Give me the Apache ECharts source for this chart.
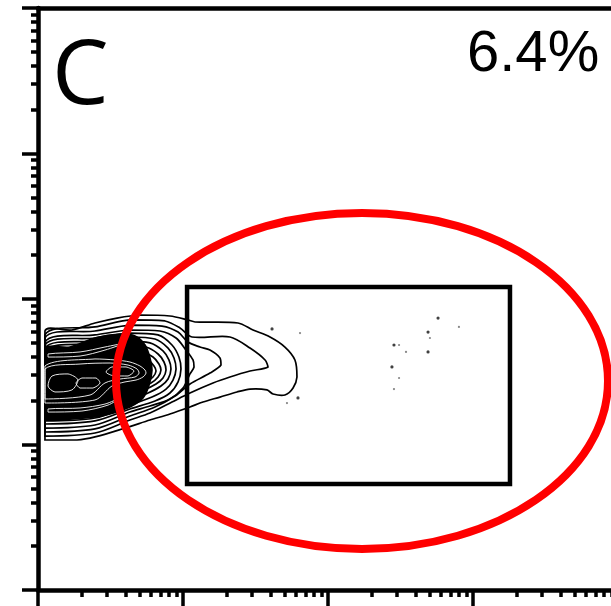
<!DOCTYPE html>
<html>
<head>
<meta charset="utf-8">
<script src="https://cdn.jsdelivr.net/npm/echarts@6/dist/echarts.min.js"></script>
<style>
  html, body { margin: 0; padding: 0; background: #fff; }
  #chart { width: 611px; height: 606px; }
</style>
</head>
<body>
<div id="chart"></div>
<script>
// Axes are in log10 decades of fluorescence intensity (10^0 .. 10^4).
const decadeTicks = [0, 1, 2, 3, 4];
const panelLabel = 'C';
const gatePercent = '6.4%';

// Gate shapes, given as [xMin, xMax, yMin, yMax] in decades.
const gateRect = [1.028, 3.255, 0.729, 2.082];
const gateEllipse = [0.538, 3.931, 0.282, 2.591];

// Density contours, outermost first: each ring is a closed list of [x, y] points.
const tailOuter = [[0.048,1.780],[0.234,1.787],[0.393,1.835],[0.545,1.869],[0.703,1.890],[0.910,1.883],[1.034,1.856],[1.083,1.842],[1.379,1.835],[1.483,1.787],[1.600,1.739],[1.703,1.670],[1.772,1.581],[1.786,1.464],[1.759,1.388],[1.703,1.340],[1.621,1.347],[1.579,1.375],[1.462,1.381],[1.372,1.361],[1.255,1.326],[1.138,1.292],[1.048,1.258],[0.910,1.210],[0.772,1.168],[0.600,1.113],[0.393,1.052],[0.269,1.031],[0.048,1.031]];
const tailMiddle = [[0.048,1.753],[0.393,1.808],[0.634,1.856],[0.876,1.849],[0.979,1.801],[1.062,1.739],[1.324,1.739],[1.462,1.663],[1.566,1.581],[1.586,1.533],[1.462,1.505],[1.324,1.464],[1.207,1.423],[1.048,1.354],[0.924,1.292],[0.772,1.216],[0.634,1.168],[0.393,1.079],[0.048,1.058]];
const tailInner = [[0.048,1.732],[0.393,1.780],[0.634,1.821],[0.855,1.814],[0.966,1.773],[1.034,1.704],[1.117,1.670],[1.186,1.649],[1.255,1.595],[1.262,1.546],[1.186,1.491],[1.048,1.416],[0.945,1.333],[0.807,1.258],[0.634,1.196],[0.393,1.107],[0.048,1.086]];
const gateLoop = [[0.048,1.704],[0.393,1.753],[0.634,1.787],[0.841,1.780],[0.952,1.732],[1.021,1.649],[1.069,1.581],[1.076,1.533],[1.048,1.485],[1.000,1.388],[0.910,1.313],[0.772,1.265],[0.634,1.223],[0.393,1.134],[0.048,1.113]];
const clusterRings = [
  [[0.048,1.684],[0.393,1.732],[0.634,1.766],[0.828,1.753],[0.924,1.684],[0.972,1.601],[0.986,1.519],[0.966,1.430],[0.910,1.354],[0.807,1.299],[0.634,1.244],[0.393,1.162],[0.048,1.141]],
  [[0.048,1.663],[0.393,1.711],[0.634,1.739],[0.807,1.725],[0.897,1.663],[0.938,1.595],[0.952,1.519],[0.931,1.443],[0.883,1.381],[0.786,1.326],[0.634,1.271],[0.393,1.182],[0.048,1.162]],
  [[0.048,1.643],[0.393,1.691],[0.621,1.711],[0.772,1.698],[0.862,1.643],[0.903,1.581],[0.917,1.519],[0.897,1.450],[0.848,1.402],[0.759,1.354],[0.621,1.299],[0.393,1.203],[0.048,1.182]],
  [[0.048,1.622],[0.393,1.670],[0.600,1.684],[0.745,1.670],[0.828,1.622],[0.869,1.567],[0.883,1.512],[0.862,1.457],[0.814,1.416],[0.731,1.375],[0.600,1.326],[0.393,1.223],[0.048,1.203]],
  [[0.048,1.601],[0.393,1.649],[0.579,1.656],[0.710,1.643],[0.793,1.601],[0.834,1.553],[0.848,1.512],[0.828,1.464],[0.779,1.423],[0.703,1.395],[0.579,1.354],[0.393,1.244],[0.048,1.223]],
  [[0.048,1.581],[0.393,1.629],[0.566,1.629],[0.683,1.615],[0.759,1.581],[0.800,1.540],[0.814,1.505],[0.793,1.464],[0.745,1.430],[0.669,1.409],[0.566,1.375],[0.393,1.265],[0.048,1.244]]
];
// Densest part of the population, where the levels merge into solid black.
const coreRing = [[0.048,1.656],[0.221,1.670],[0.393,1.732],[0.566,1.759],[0.669,1.746],[0.738,1.684],[0.772,1.595],[0.786,1.512],[0.766,1.409],[0.724,1.320],[0.634,1.258],[0.497,1.210],[0.393,1.189],[0.221,1.175],[0.048,1.175]];
// Gaps between the tightly packed inner levels.
const coreGaps = [
  [[0.048,1.540],[0.393,1.588],[0.531,1.581],[0.634,1.567],[0.703,1.540],[0.738,1.512],[0.745,1.491],[0.724,1.464],[0.676,1.443],[0.600,1.430],[0.510,1.402],[0.393,1.306],[0.048,1.285]],
  [[0.048,1.519],[0.290,1.553],[0.497,1.560],[0.621,1.546],[0.683,1.519],[0.697,1.491],[0.669,1.464],[0.566,1.450],[0.462,1.423],[0.359,1.340],[0.048,1.313]],
  [[0.510,1.533],[0.607,1.533],[0.662,1.505],[0.621,1.471],[0.524,1.471],[0.469,1.498]],
  [[0.303,1.457],[0.400,1.457],[0.428,1.423],[0.379,1.388],[0.290,1.388],[0.262,1.423]],
  [[0.097,1.471],[0.207,1.485],[0.276,1.443],[0.234,1.375],[0.117,1.361],[0.069,1.402]],
  [[0.069,1.244],[0.290,1.251],[0.462,1.278],[0.566,1.320],[0.483,1.271],[0.303,1.230],[0.069,1.223]],
  [[0.069,1.622],[0.290,1.636],[0.462,1.670],[0.600,1.698],[0.462,1.649],[0.290,1.608],[0.069,1.601]]
];

// Single events outside the contoured population.
const eventsDense = [[1.614,1.794],[2.759,1.869],[2.690,1.773],[2.455,1.684],[2.690,1.636],[2.441,1.533],[1.793,1.320]];
const eventsSparse = [[1.807,1.766],[1.717,1.285],[2.903,1.808],[2.703,1.732],[2.490,1.684],[2.538,1.636],[2.490,1.457],[2.455,1.381]];

const minorTicks = [];
for (let k = 0; k < decadeTicks.length - 1; k++) {
  for (let m = 2; m <= 9; m++) minorTicks.push(decadeTicks[k] + Math.log10(m));
}

const outlineRings = [tailOuter, tailMiddle, tailInner, gateLoop].concat(clusterRings);

function ringShape(ring, api, style) {
  const pts = ring.map(p => api.coord(p));
  let minX = Infinity, minY = Infinity, maxX = -Infinity, maxY = -Infinity;
  pts.forEach(p => {
    minX = Math.min(minX, p[0]); maxX = Math.max(maxX, p[0]);
    minY = Math.min(minY, p[1]); maxY = Math.max(maxY, p[1]);
  });
  return {
    type: 'polygon',
    shape: { points: pts, smooth: 0.3, smoothConstraint: [[minX, minY], [maxX, maxY]] },
    style: style
  };
}

const majorAxis = (position) => ({
  type: 'value', min: 0, max: 4, interval: 1, position: position,
  axisLine: { show: true, onZero: false, lineStyle: { color: '#000', width: 4.5 } },
  axisTick: { show: true, length: 16, lineStyle: { color: '#000', width: 3.5 } },
  axisLabel: { show: false }, splitLine: { show: false }
});
const minorAxis = (position) => ({
  type: 'value', min: 0, max: 4, position: position,
  axisLine: { show: false, onZero: false },
  axisTick: { show: true, customValues: minorTicks, length: 7, lineStyle: { color: '#000', width: 3.5 } },
  axisLabel: { show: false }, splitLine: { show: false }
});

const chart = echarts.init(document.getElementById('chart'), null, { renderer: 'canvas' });
chart.setOption({
  backgroundColor: '#fff',
  animation: false,
  grid: { left: 38, top: 8, width: 580, height: 582, outerBoundsMode: 'none', containLabel: false },
  xAxis: [
    majorAxis('bottom'),
    minorAxis('bottom'),
    {
      type: 'value', min: 0, max: 4, position: 'top',
      axisLine: { show: true, onZero: false, lineStyle: { color: '#000', width: 4.5 } },
      axisTick: { show: false }, axisLabel: { show: false }, splitLine: { show: false }
    }
  ],
  yAxis: [majorAxis('left'), minorAxis('left')],
  graphic: [
    {
      type: 'text', x: 52, y: 33, silent: true,
      style: { text: panelLabel, font: '90px "Open Sans"', fill: '#000',
               textAlign: 'left', align: 'left', textVerticalAlign: 'top', verticalAlign: 'top' }
    },
    {
      type: 'text', x: 467, y: 26, silent: true,
      style: { text: gatePercent, font: '58px "Liberation Sans"', fill: '#000',
               textAlign: 'left', align: 'left', textVerticalAlign: 'top', verticalAlign: 'top' }
    }
  ],
  series: [
    {
      type: 'custom', silent: true, z: 2,
      data: outlineRings.map(r => r[0]),
      renderItem: (params, api) => ringShape(outlineRings[params.dataIndex], api,
        { fill: 'none', stroke: '#000', lineWidth: 1.7 })
    },
    {
      type: 'custom', silent: true, z: 3,
      data: [coreRing[0]],
      renderItem: (params, api) => ringShape(coreRing, api,
        { fill: '#000', stroke: '#000', lineWidth: 1.7 })
    },
    {
      type: 'custom', silent: true, z: 4,
      data: coreGaps.map(r => r[0]),
      renderItem: (params, api) => ringShape(coreGaps[params.dataIndex], api,
        { fill: 'none', stroke: '#fff', lineWidth: 0.9 })
    },
    {
      type: 'scatter', silent: true, z: 5, symbol: 'circle', symbolSize: 3.2,
      itemStyle: { color: '#111' }, data: eventsDense
    },
    {
      type: 'scatter', silent: true, z: 5, symbol: 'circle', symbolSize: 2.2,
      itemStyle: { color: '#666' }, data: eventsSparse
    },
    {
      type: 'custom', silent: true, z: 6,
      data: [gateRect],
      renderItem: (params, api) => {
        const a = api.coord([gateRect[0], gateRect[3]]);
        const b = api.coord([gateRect[1], gateRect[2]]);
        return {
          type: 'rect',
          shape: { x: a[0], y: a[1], width: b[0] - a[0], height: b[1] - a[1] },
          style: { fill: 'none', stroke: '#000', lineWidth: 4.5 }
        };
      }
    },
    {
      type: 'custom', silent: true, z: 7,
      data: [gateEllipse],
      renderItem: (params, api) => {
        const a = api.coord([gateEllipse[0], gateEllipse[3]]);
        const b = api.coord([gateEllipse[1], gateEllipse[2]]);
        return {
          type: 'ellipse',
          shape: { cx: (a[0] + b[0]) / 2, cy: (a[1] + b[1]) / 2,
                   rx: (b[0] - a[0]) / 2, ry: (b[1] - a[1]) / 2 },
          style: { fill: 'none', stroke: '#ff0000', lineWidth: 8 }
        };
      }
    }
  ]
});
</script>
</body>
</html>
